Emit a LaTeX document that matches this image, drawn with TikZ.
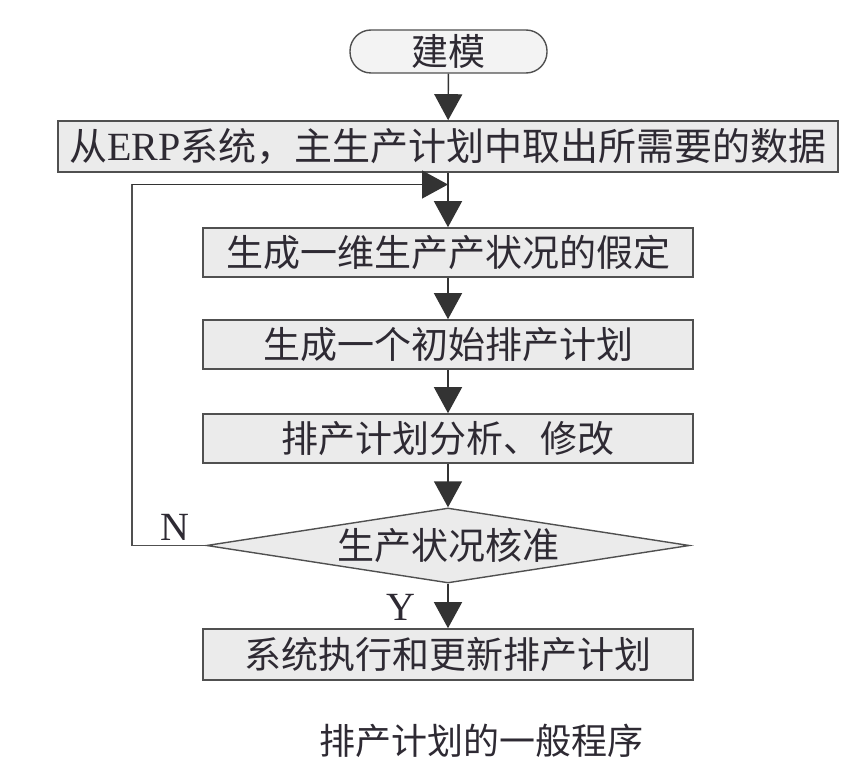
\documentclass[tikz,border=0pt]{standalone}
\usepackage{fontspec}
\setmainfont{Liberation Serif}
\newfontfamily\cjk{Noto Sans CJK SC}
\usetikzlibrary{arrows.meta,shapes.geometric}
\definecolor{boxfill}{HTML}{EBEBEB}
\definecolor{boxline}{HTML}{505050}
\definecolor{ink}{HTML}{2E2A33}
\definecolor{arrowc}{HTML}{333333}
\tikzset{
  procbox/.style={draw=boxline, line width=1.6pt, fill=boxfill, inner sep=0pt,
    minimum width=490pt, minimum height=49pt, text=ink, font=\fontsize{37}{40}\selectfont\cjk},
  termbox/.style={draw=boxline, line width=1.4pt, fill=boxfill!60, rounded corners=21pt,
    inner sep=0pt, minimum width=197pt, minimum height=43pt, text=ink, font=\fontsize{37}{40}\selectfont\cjk},
  decbox/.style={diamond, aspect=6.44, draw=boxline, line width=1.4pt, fill=boxfill, inner sep=0pt,
    minimum width=483pt, minimum height=75pt, text=ink, font=\fontsize{37}{40}\selectfont\cjk},
  flow/.style={draw=boxline, line width=1.4pt, -{Triangle[width=28pt,length=26pt]}, arrowc},
  plainline/.style={draw=boxline, line width=1.4pt},
  lbl/.style={text=ink, font=\fontsize{40}{44}\selectfont}
}
\begin{document}
\begin{tikzpicture}[x=1pt,y=-1pt]
\useasboundingbox[fill=white] (0,0) rectangle (862,770);
\node[termbox] (t) at (448.5,51.5) {建模};
\node[procbox, minimum width=780pt, minimum height=51pt, font=\fontsize{38}{40}\selectfont\cjk] (b2) at (448,146.5)
  {从{\rmfamily\fontsize{40}{40}\selectfont ERP}系统，主生产计划中取出所需要的数据};
\node[procbox] (b3) at (448,252.5) {生成一维生产产状况的假定};
\node[procbox] (b4) at (448,344.5) {生成一个初始排产计划};
\node[procbox] (b5) at (448,438.5) {排产计划分析、修改};
\node[decbox] (d) at (448,545.5) {生产状况核准};
\node[procbox, minimum height=51pt] (b6) at (448,654.5) {系统执行和更新排产计划};
\coordinate (j) at (448,184.5);
\coordinate (c1) at (132,545.5);
\coordinate (c2) at (132,184.5);
\node[lbl] (n) at (175,527) {N};
\node[lbl] (y) at (401,607) {Y};
\node[text=ink, font=\fontsize{36}{40}\selectfont\cjk] (cap) at (481,741) {排产计划的一般程序};
\draw[flow] (t) -- (b2);
\draw[flow] (b2) -- (b3);
\draw[flow] (b3) -- (b4);
\draw[flow] (b4) -- (b5);
\draw[flow] (b5) -- (d);
\draw[flow] (d) -- (b6);
\draw[plainline] (d.west) -- (c1) -- (c2);
\draw[flow] (c2) -- (j);
\end{tikzpicture}
\end{document}
